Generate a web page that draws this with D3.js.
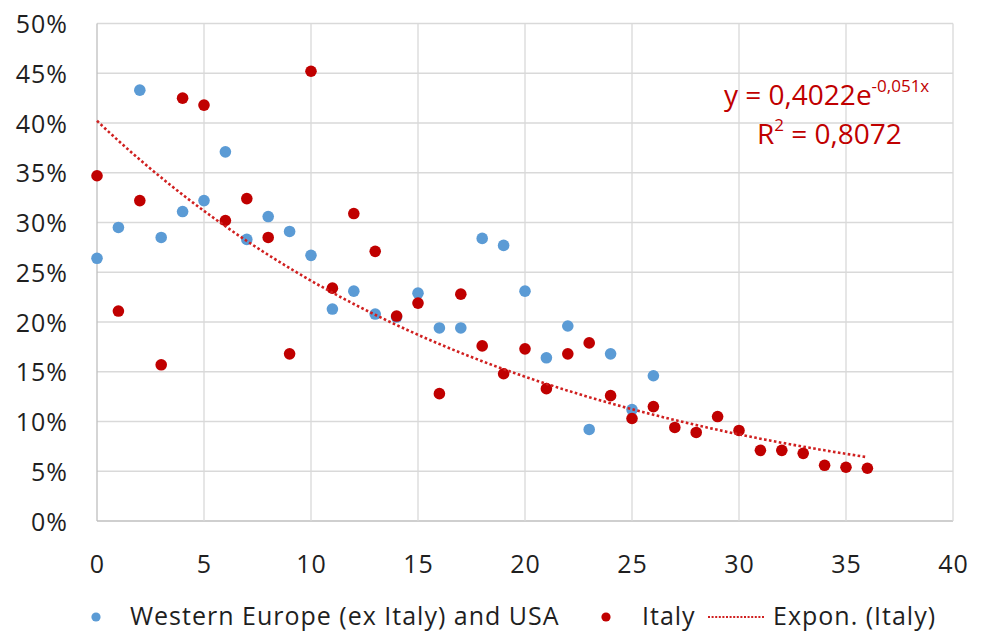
<!DOCTYPE html>
<html>
<head>
<meta charset="utf-8">
<script src="https://cdn.jsdelivr.net/npm/d3@7"></script>
<style>
  html, body { margin: 0; padding: 0; background: #fff; }
  svg { display: block; font-family: "Open Sans", Lato, sans-serif; }
</style>
</head>
<body>
<svg id="chart" width="987" height="632"></svg>
<script>
// Days since onset (x) and share values (y) for each group
const westDays = d3.range(0, 27);
const westValues = [0.264, 0.295, 0.433, 0.285, 0.311, 0.322, 0.371, 0.283, 0.306, 0.291,
                    0.267, 0.213, 0.231, 0.208, 0.205, 0.229, 0.194, 0.194, 0.284, 0.277,
                    0.231, 0.164, 0.196, 0.092, 0.168, 0.112, 0.146];
const italyDays = d3.range(0, 37);
const italyValues = [0.347, 0.211, 0.322, 0.157, 0.425, 0.418, 0.302, 0.324, 0.285, 0.168,
                     0.452, 0.234, 0.309, 0.271, 0.206, 0.219, 0.128, 0.228, 0.176, 0.148,
                     0.173, 0.133, 0.168, 0.179, 0.126, 0.103, 0.115, 0.094, 0.089, 0.105,
                     0.091, 0.071, 0.071, 0.068, 0.056, 0.054, 0.053];

// Exponential fit for Italy: y = a * e^(b x)
const fitA = 0.4022;
const fitB = -0.051;
const fitR2 = "0,8072";

const xTicks = [0, 5, 10, 15, 20, 25, 30, 35, 40];
const yTicks = [0, 0.05, 0.10, 0.15, 0.20, 0.25, 0.30, 0.35, 0.40, 0.45, 0.50];

const legendLabels = ["Western Europe (ex Italy) and USA", "Italy", "Expon. (Italy)"];

const blue = "#5b9bd5";
const red = "#c00000";
const textColor = "#1f1f1f";
const font = "'Open Sans', Lato, sans-serif";

const svg = d3.select("#chart");
const plot = { left: 97, right: 953, top: 23.5, bottom: 521 };

const x = d3.scaleLinear().domain([0, 40]).range([plot.left, plot.right]);
const y = d3.scaleLinear().domain([0, 0.5]).range([plot.bottom, plot.top]);

// Gridlines
const grid = svg.append("g");
grid.selectAll("line.h").data(yTicks).join("line").attr("class", "h")
  .attr("x1", plot.left).attr("x2", plot.right)
  .attr("y1", d => y(d)).attr("y2", d => y(d))
  .attr("stroke", d => d === 0 ? "#bfbfbf" : "#d9d9d9").attr("stroke-width", 1.3);
grid.selectAll("line.v").data(xTicks).join("line").attr("class", "v")
  .attr("x1", d => x(d)).attr("x2", d => x(d))
  .attr("y1", plot.top).attr("y2", plot.bottom)
  .attr("stroke", d => d === 0 ? "#bfbfbf" : "#d9d9d9").attr("stroke-width", 1.3);

// Axis tick labels
const yAxis = d3.axisLeft(y).tickValues(yTicks).tickSize(0).tickPadding(0)
  .tickFormat(d => Math.round(d * 100) + "%");
svg.append("g").attr("transform", "translate(68,0)").call(yAxis)
  .call(g => g.select(".domain").remove())
  .selectAll("text").attr("font-size", 25).attr("fill", textColor)
  .attr("font-family", font).attr("letter-spacing", 1).attr("dy", "0.36em");

const xAxis = d3.axisBottom(x).tickValues(xTicks).tickSize(0).tickPadding(0)
  .tickFormat(d3.format("d"));
svg.append("g").attr("transform", "translate(0,573)").call(xAxis)
  .call(g => g.select(".domain").remove())
  .selectAll("text").attr("font-size", 25).attr("fill", textColor)
  .attr("font-family", font).attr("letter-spacing", 1).attr("dy", 0);

// Scatter points
svg.append("g").selectAll("circle").data(westDays.map((d, i) => [d, westValues[i]])).join("circle")
  .attr("cx", d => x(d[0])).attr("cy", d => y(d[1])).attr("r", 5.8).attr("fill", blue);

svg.append("g").selectAll("circle").data(italyDays.map((d, i) => [d, italyValues[i]])).join("circle")
  .attr("cx", d => x(d[0])).attr("cy", d => y(d[1])).attr("r", 5.8).attr("fill", red);

// Exponential trendline over the Italy range
const fitPts = d3.range(0, 36.01, 0.25).map(t => [t, fitA * Math.exp(fitB * t)]);
svg.append("path").datum(fitPts)
  .attr("d", d3.line().x(d => x(d[0])).y(d => y(d[1])))
  .attr("fill", "none").attr("stroke", "#d02020").attr("stroke-width", 2.6)
  .attr("stroke-dasharray", "2.6,2.4");

// Trendline equation
const eq = svg.append("text").attr("x", 724).attr("y", 105)
  .attr("fill", red).attr("font-size", 28).attr("font-family", font);
eq.append("tspan").text("y = " + String(fitA).replace(".", ",") + "e");
eq.append("tspan").attr("font-size", 17).attr("dy", -13)
  .text(String(fitB).replace(".", ",") + "x");
const r2 = svg.append("text").attr("x", 757).attr("y", 144)
  .attr("fill", red).attr("font-size", 28).attr("font-family", font);
r2.append("tspan").text("R");
r2.append("tspan").attr("font-size", 17).attr("dy", -13).text("2");
r2.append("tspan").attr("dy", 13).text(" = " + fitR2);

// Legend
const lg = svg.append("g").attr("font-size", 25).attr("font-family", font)
  .attr("letter-spacing", 1).attr("fill", textColor);
lg.append("circle").attr("cx", 96).attr("cy", 617).attr("r", 4.6).attr("fill", blue);
lg.append("text").attr("x", 130).attr("y", 625).attr("fill", textColor).text(legendLabels[0]);
lg.append("circle").attr("cx", 606).attr("cy", 617).attr("r", 4.6).attr("fill", red);
lg.append("text").attr("x", 642).attr("y", 625).attr("fill", textColor).text(legendLabels[1]);
lg.append("line").attr("x1", 708).attr("x2", 764).attr("y1", 617).attr("y2", 617)
  .attr("stroke", "#d02020").attr("stroke-width", 2).attr("stroke-dasharray", "2,1.6");
lg.append("text").attr("x", 773).attr("y", 625).attr("fill", textColor).text(legendLabels[2]);
</script>
</body>
</html>
